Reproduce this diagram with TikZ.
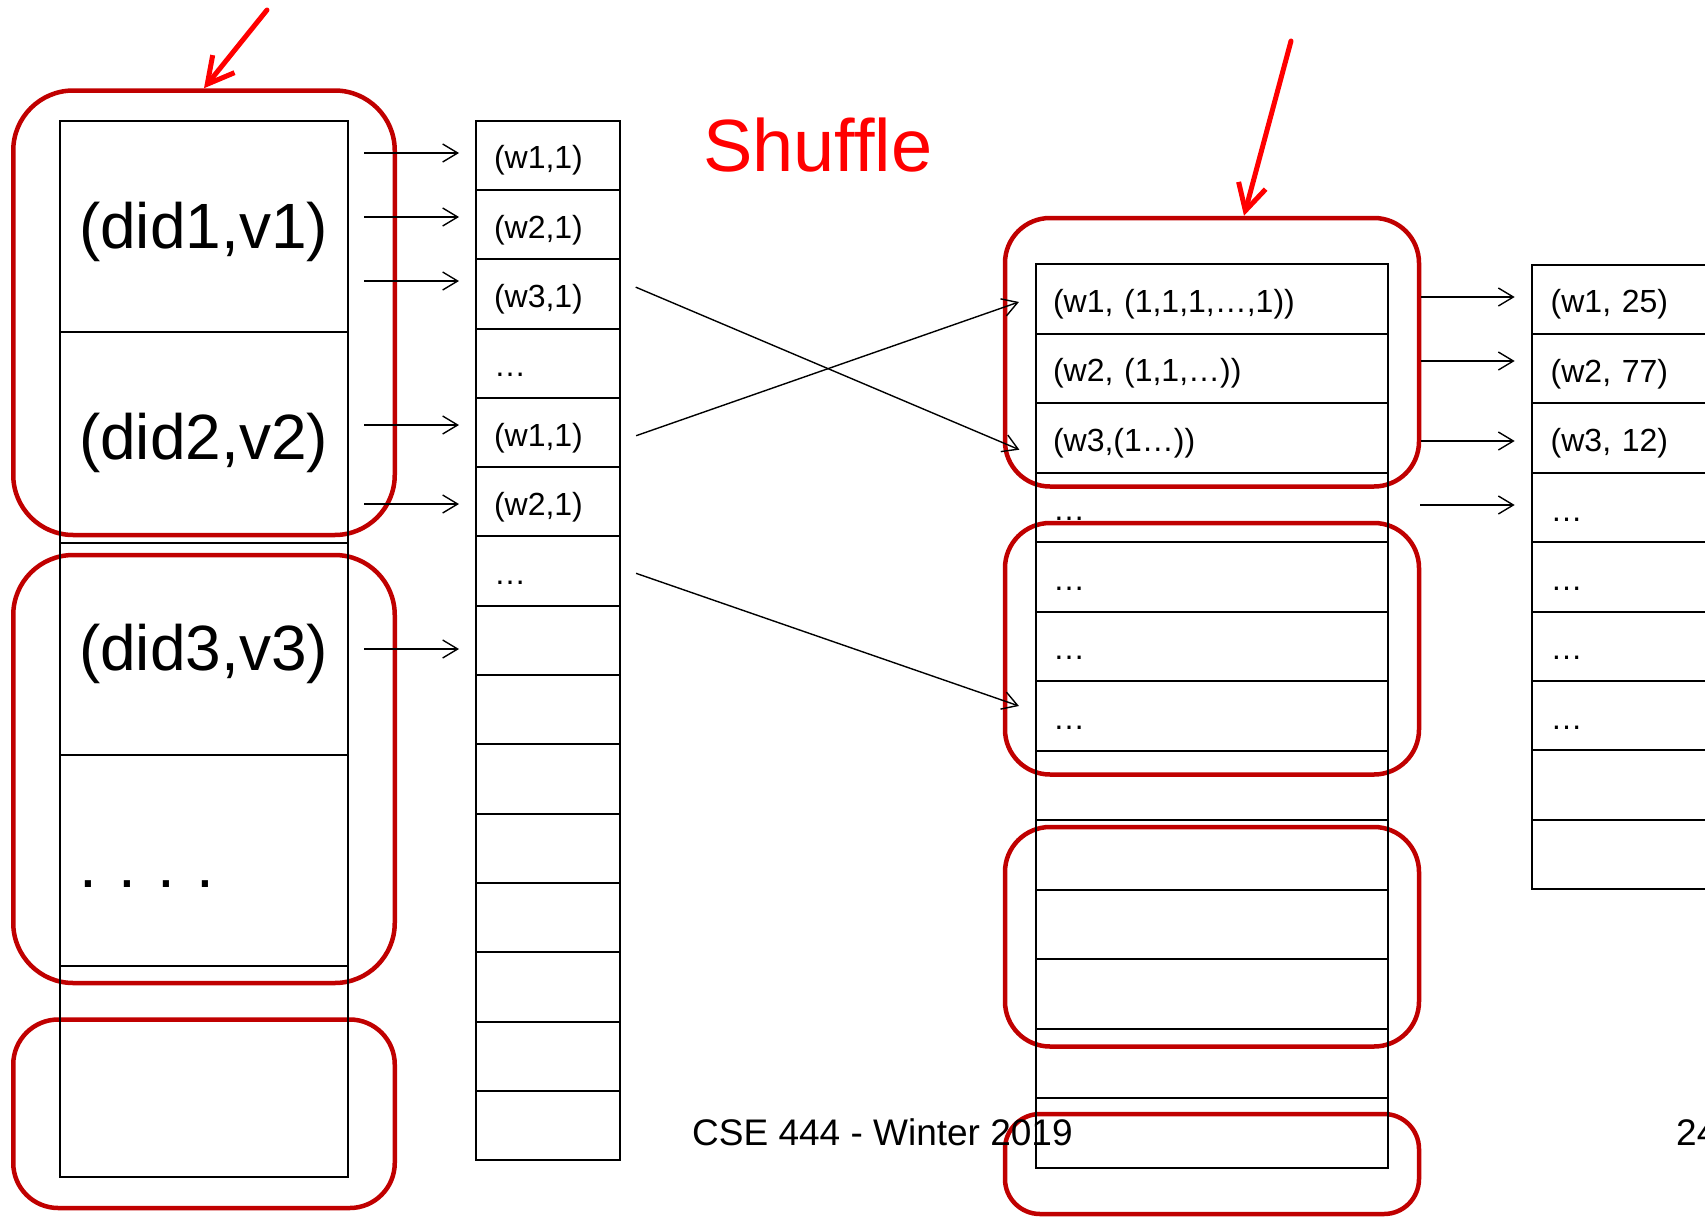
\documentclass[tikz,border=0pt]{standalone}
\usepackage{fontspec}
\setmainfont{Liberation Sans}
\usetikzlibrary{arrows.meta}
\definecolor{boxred}{RGB}{192,0,0}
\definecolor{inkred}{RGB}{255,0,0}
\frenchspacing

\begin{document}
\begin{tikzpicture}[x = 1pt, y = -1pt]
\tikzstyle{docStyle}=[shape = rectangle, draw, line width = 2pt, minimum height = 211.2pt, text width = 250pt, inner xsep = 19pt, inner ysep = 0pt, align = left, text height = 48pt, text depth = 5pt, font = \fontsize{64}{70}\selectfont]
\tikzstyle{mapStyle}=[shape = rectangle, draw, line width = 2pt, minimum height = 69.3pt, text width = 108pt, inner xsep = 18pt, inner ysep = 0pt, align = left, text height = 27pt, text depth = 0pt, font = \fontsize{32}{36}\selectfont]
\tikzstyle{groupStyle}=[mapStyle, minimum height = 69.5pt, text width = 318pt, inner xsep = 17pt]
\tikzstyle{reduceStyle}=[mapStyle, minimum height = 69.4pt, text width = 314pt, inner xsep = 19pt]
\tikzstyle{boxStyle}=[shape = rectangle, draw = boxred, line width = 4.5pt, inner sep = 0pt, rounded corners = 45pt]
\tikzstyle{arrowStyle}=[draw, line width = 1.4pt, -{Straight Barb[length = 15pt, width = 18pt]}]
\tikzstyle{pointerStyle}=[draw = inkred, line width = 5pt, line cap = round, line join = round, -{Straight Barb[length = 26pt, width = 28pt]}]
\tikzstyle{footStyle}=[anchor = base west, inner sep = 0pt, font = \fontsize{37}{40}\selectfont]
\useasboundingbox (0,0) rectangle (1705,1218);
\clip (0,0) rectangle (1705,1218);
\node[boxStyle, minimum width = 381.5pt, minimum height = 444.5pt, rounded corners = 60pt] (lg1) at (204, 312.75) {};
\node[boxStyle, minimum width = 381.5pt, minimum height = 428pt, rounded corners = 60pt] (lg2) at (204, 769) {};
\node[boxStyle, minimum width = 381.5pt, minimum height = 188.5pt] (lg3) at (204, 1113.75) {};
\node[boxStyle, minimum width = 414pt, minimum height = 268.5pt] (rg1) at (1212, 352.25) {};
\node[boxStyle, minimum width = 414pt, minimum height = 251.5pt] (rg2) at (1212, 648.75) {};
\node[boxStyle, minimum width = 414pt, minimum height = 219.5pt] (rg3) at (1212, 936.75) {};
\node[boxStyle, minimum width = 414pt, minimum height = 100pt, rounded corners = 35pt] (rg4) at (1212, 1164) {};
\node[docStyle] (d1) at (204, 226.6) {(did1,v1)};
\node[docStyle] (d2) at (204, 437.8) {(did2,v2)};
\node[docStyle] (d3) at (204, 649) {(did3,v3)};
\node[docStyle, text height = 54pt, text depth = 0pt] (d4) at (204, 860.2) {. . . .};
\node[docStyle] (d5) at (204, 1071.4) {};
\node[mapStyle] (m1) at (548, 155.35) {(w1,1)};
\node[mapStyle] (m2) at (548, 224.6) {(w2,1)};
\node[mapStyle] (m3) at (548, 293.9) {(w3,1)};
\node[mapStyle] (m4) at (548, 363.2) {…};
\node[mapStyle] (m5) at (548, 432.5) {(w1,1)};
\node[mapStyle] (m6) at (548, 501.8) {(w2,1)};
\node[mapStyle] (m7) at (548, 571.1) {…};
\node[mapStyle] (m8) at (548, 640.4) {};
\node[mapStyle] (m9) at (548, 709.7) {};
\node[mapStyle] (m10) at (548, 779) {};
\node[mapStyle] (m11) at (548, 848.3) {};
\node[mapStyle] (m12) at (548, 917.6) {};
\node[mapStyle] (m13) at (548, 986.9) {};
\node[mapStyle] (m14) at (548, 1056.2) {};
\node[mapStyle] (m15) at (548, 1125.5) {};
\node[groupStyle] (g1) at (1212, 298.75) {(w1, (1,1,1,…,1))};
\node[groupStyle] (g2) at (1212, 368.25) {(w2, (1,1,…))};
\node[groupStyle] (g3) at (1212, 437.75) {(w3,(1…))};
\node[groupStyle] (g4) at (1212, 507.25) {…};
\node[groupStyle] (g5) at (1212, 576.75) {…};
\node[groupStyle] (g6) at (1212, 646.25) {…};
\node[groupStyle] (g7) at (1212, 715.75) {…};
\node[groupStyle] (g8) at (1212, 785.25) {};
\node[groupStyle] (g9) at (1212, 854.75) {};
\node[groupStyle] (g10) at (1212, 924.25) {};
\node[groupStyle] (g11) at (1212, 993.75) {};
\node[groupStyle] (g12) at (1212, 1063.25) {};
\node[groupStyle] (g13) at (1212, 1132.75) {};
\node[reduceStyle] (r1) at (1707.7, 299.3) {(w1, 25)};
\node[reduceStyle] (r2) at (1707.7, 368.7) {(w2, 77)};
\node[reduceStyle] (r3) at (1707.7, 438.1) {(w3, 12)};
\node[reduceStyle] (r4) at (1707.7, 507.5) {…};
\node[reduceStyle] (r5) at (1707.7, 576.9) {…};
\node[reduceStyle] (r6) at (1707.7, 646.3) {…};
\node[reduceStyle] (r7) at (1707.7, 715.7) {…};
\node[reduceStyle] (r8) at (1707.7, 785.1) {};
\node[reduceStyle] (r9) at (1707.7, 854.5) {};
\node[anchor = base west, inner sep = 0pt, text = inkred, font = \fontsize{74}{80}\selectfont] (shuffle) at (703, 171) {Shuffle};
\node[footStyle] (foot) at (692, 1145) {CSE 444 - Winter 2019};
\node[footStyle] (page) at (1676, 1145) {24};
\coordinate (t1) at (364, 153);
\coordinate (t2) at (364, 217);
\coordinate (t3) at (364, 281);
\coordinate (t4) at (364, 425);
\coordinate (t5) at (364, 504);
\coordinate (t6) at (364, 649);
\coordinate (u1) at (1421, 297);
\coordinate (u2) at (1421, 361);
\coordinate (u3) at (1421, 441);
\coordinate (u4) at (1420, 505);
\coordinate (p1) at (267, 10);
\coordinate (p2) at (1291, 41);
\path
(t1) edge [arrowStyle, shorten > = 16pt] (t1 -| m1.west)
(t2) edge [arrowStyle, shorten > = 16pt] (t2 -| m2.west)
(t3) edge [arrowStyle, shorten > = 16pt] (t3 -| m3.west)
(t4) edge [arrowStyle, shorten > = 16pt] (t4 -| m5.west)
(t5) edge [arrowStyle, shorten > = 16pt] (t5 -| m6.west)
(t6) edge [arrowStyle, shorten > = 16pt] (t6 -| m8.west)
(u1) edge [arrowStyle, shorten > = 16pt] (u1 -| r1.west)
(u2) edge [arrowStyle, shorten > = 16pt] (u2 -| r2.west)
(u3) edge [arrowStyle, shorten > = 16pt] (u3 -| r3.west)
(u4) edge [arrowStyle, shorten > = 16pt] (u4 -| r4.west);
\path
([yshift = 13pt]m3.east) edge [arrowStyle, shorten < = 16pt, shorten > = 17pt] ([yshift = -18.6pt]g3.west)
([yshift = -8.5pt]m5.east) edge [arrowStyle, shorten < = 16pt, shorten > = 17pt] ([yshift = 2.4pt]g1.west)
([yshift = 3pt]m7.east) edge [arrowStyle, shorten < = 16pt, shorten > = 17pt] ([yshift = 4.2pt]g7.west);
\path
(p1) edge [pointerStyle] (lg1.north)
(p2) edge [pointerStyle] ([xshift = 32pt]rg1.north);
\end{tikzpicture}
\end{document}
